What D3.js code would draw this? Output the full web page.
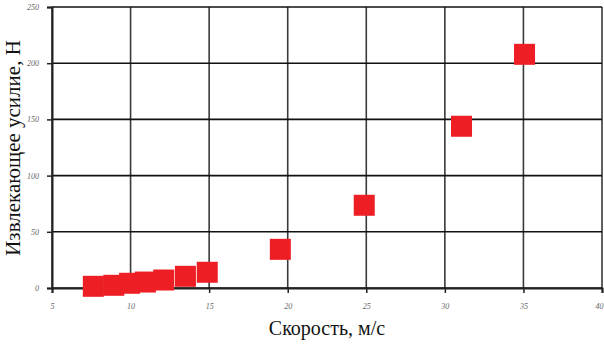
<!DOCTYPE html>
<html><head><meta charset="utf-8">
<script src="https://cdn.jsdelivr.net/npm/d3@7"></script>
<style>body{margin:0;background:#fff}svg{display:block}</style>
</head><body>
<script>
const speed = [7.63, 8.93, 9.94, 10.94, 12.11, 13.49, 14.88, 19.53, 24.87, 31.06, 35.07];
const force = [1.5, 2.4, 4.2, 5.3, 7.1, 10.4, 14.0, 34.4, 73.6, 143.9, 207.9];
const xTicks = [5, 10, 15, 20, 25, 30, 35, 40];
const yTicks = [0, 50, 100, 150, 200, 250];
const xTitle = "Скорость, м/с";
const yTitle = "Извлекающее усилие, Н";

const SERIF = "'Liberation Serif'";
const W = 604, H = 347;
const svg = d3.select("body").append("svg").attr("width", W).attr("height", H);
const x = d3.scaleLinear().domain([5, 40]).range([52, 602]);
const y = d3.scaleLinear().domain([0, 250]).range([288, 7]);

// grid
svg.append("g").selectAll("line").data(xTicks).join("line")
  .attr("x1", d => x(d)).attr("x2", d => x(d)).attr("y1", y(250)).attr("y2", y(0))
  .attr("stroke", "#3a3a3a").attr("stroke-width", 1.6);
svg.append("g").selectAll("line").data(yTicks).join("line")
  .attr("x1", x(5)).attr("x2", x(40)).attr("y1", d => y(d)).attr("y2", d => y(d))
  .attr("stroke", "#111").attr("stroke-width", 1.6);

// axes
const xAxis = svg.append("g").attr("transform", `translate(0,${y(0)})`)
  .call(d3.axisBottom(x).tickValues(xTicks).tickSize(5).tickPadding(10).tickFormat(d3.format("d")));
const yAxis = svg.append("g").attr("transform", `translate(${x(5)},0)`)
  .call(d3.axisLeft(y).tickValues(yTicks).tickSize(5).tickPadding(8).tickFormat(d3.format("d")));
[xAxis, yAxis].forEach(g => {
  g.attr("font-family", SERIF);
  g.select(".domain").attr("stroke", "#222").attr("stroke-width", 2);
  g.selectAll(".tick line").attr("stroke", "#222").attr("stroke-width", 1.5);
  g.selectAll(".tick text").style("font-family", SERIF)
    .style("font-style", "italic").attr("font-size", 8).attr("fill", "#666");
});
xAxis.selectAll(".tick text").filter(d => d === 40).attr("dx", -3);

// points
const s = 21;
svg.append("g").selectAll("rect").data(speed.map((v, i) => [v, force[i]])).join("rect")
  .attr("x", d => x(d[0]) - s / 2).attr("y", d => y(d[1]) - s / 2)
  .attr("width", s).attr("height", s).attr("fill", "#ED1F24");

// titles
svg.append("text").attr("x", 327).attr("y", 335).attr("text-anchor", "middle")
  .style("font-family", SERIF).style("font-size", "20px").attr("fill", "#111")
  .text(xTitle);
svg.append("text").attr("transform", "translate(20,148) rotate(-90)").attr("text-anchor", "middle")
  .style("font-family", SERIF).style("font-size", "21px").attr("fill", "#111")
  .text(yTitle);
</script>
</body></html>
